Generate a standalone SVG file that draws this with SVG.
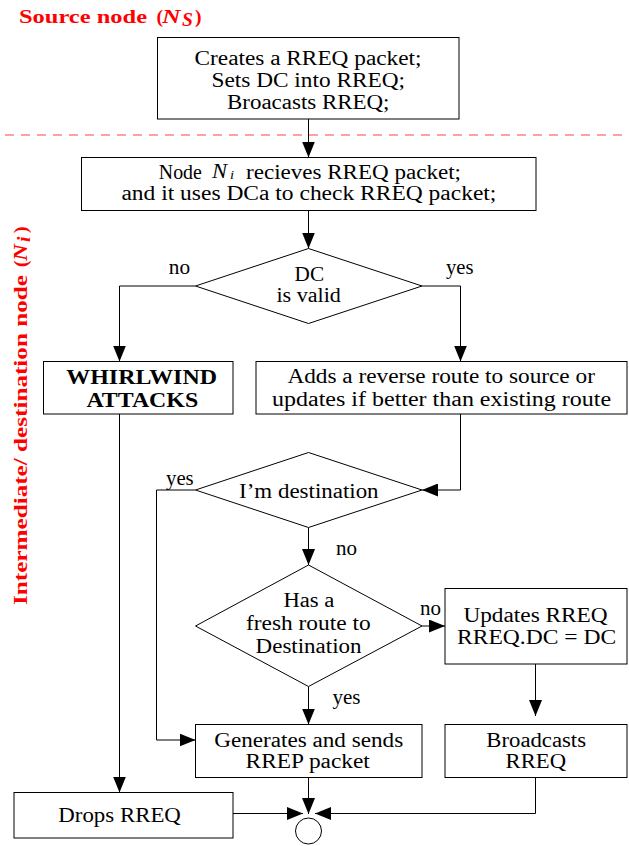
<svg xmlns="http://www.w3.org/2000/svg" width="629" height="846" viewBox="0 0 629 846">
<style>
.box{fill:#fff;stroke:#000;stroke-width:1}
.t{font-family:"Liberation Serif","Times New Roman",serif;font-size:20px;fill:#000}
.b{font-weight:bold}
.it{font-style:italic}
.sub{font-size:13px}
.lbl{font-family:"Liberation Serif","Times New Roman",serif;font-size:19.5px;font-weight:bold;fill:#ff0000}
.c{fill:none;stroke:#000;stroke-width:1}
</style>
<defs>
<marker id="ah" markerUnits="userSpaceOnUse" markerWidth="16" markerHeight="13" refX="16" refY="6.5" orient="auto">
<path d="M0,0 L16,6.5 L0,13 z" fill="#000"/>
</marker>
</defs>

<g id="source-label">
<text class="lbl" x="19" y="22.5" textLength="128" lengthAdjust="spacingAndGlyphs">Source node</text>
<text class="lbl" x="156.5" y="22.5">(</text>
<text class="lbl it" x="162" y="22.5" textLength="18.5" lengthAdjust="spacingAndGlyphs">N</text>
<text class="lbl it" x="182" y="26" font-size="13.5px">S</text>
<text class="lbl" x="195" y="22.5">)</text>
</g>

<g id="separator">
<line x1="5" y1="135" x2="625" y2="135" stroke="#ff8080" stroke-width="1.4" stroke-dasharray="9 7"/>
</g>

<g id="intermediate-label" transform="translate(26.5,605) rotate(-90)">
<text class="lbl" x="0" y="0" textLength="330" lengthAdjust="spacingAndGlyphs">Intermediate/ destination node</text>
<text class="lbl" x="338" y="0">(</text>
<text class="lbl it" x="344" y="0" textLength="17" lengthAdjust="spacingAndGlyphs">N</text>
<text class="lbl it" x="363" y="3.5" font-size="13.5px">i</text>
<text class="lbl" x="372" y="0">)</text>
</g>

<g id="connectors">
<line class="c" x1="308.5" y1="119" x2="308.5" y2="157.5" marker-end="url(#ah)"/>
<line class="c" x1="308.5" y1="210.5" x2="308.5" y2="248.5" marker-end="url(#ah)"/>
<polyline class="c" points="195.5,286 119.5,286 119.5,361.5" marker-end="url(#ah)"/>
<polyline class="c" points="422,286 460.5,286 460.5,361.5" marker-end="url(#ah)"/>
<polyline class="c" points="460.5,414 460.5,490 422,490" marker-end="url(#ah)"/>
<polyline class="c" points="195.5,490 156.5,490 156.5,740 195.5,740" marker-end="url(#ah)"/>
<line class="c" x1="308.5" y1="527.5" x2="308.5" y2="565" marker-end="url(#ah)"/>
<line class="c" x1="422" y1="626" x2="445" y2="626" marker-end="url(#ah)"/>
<line class="c" x1="308.5" y1="686.5" x2="308.5" y2="724.5" marker-end="url(#ah)"/>
<line class="c" x1="119.5" y1="414" x2="119.5" y2="792.5" marker-end="url(#ah)"/>
<line class="c" x1="535.5" y1="664" x2="535.5" y2="716" marker-end="url(#ah)"/>
<line class="c" x1="308.5" y1="777.5" x2="308.5" y2="814" marker-end="url(#ah)"/>
<line class="c" x1="233" y1="813.5" x2="303" y2="813.5" marker-end="url(#ah)"/>
<polyline class="c" points="535.5,777.5 535.5,813.5 315,813.5" marker-end="url(#ah)"/>
<text class="t" x="168.8" y="273.5" textLength="21.3" lengthAdjust="spacingAndGlyphs">no</text>
<text class="t" x="446" y="273.5" textLength="27.5" lengthAdjust="spacingAndGlyphs">yes</text>
<text class="t" x="166" y="484.5" textLength="27.7" lengthAdjust="spacingAndGlyphs">yes</text>
<text class="t" x="336" y="554.5" textLength="21" lengthAdjust="spacingAndGlyphs">no</text>
<text class="t" x="420" y="615" textLength="21" lengthAdjust="spacingAndGlyphs">no</text>
<text class="t" x="332.4" y="703.5" textLength="28" lengthAdjust="spacingAndGlyphs">yes</text>
</g>

<g id="create-rreq">
<rect class="box" x="157.5" y="37.5" width="301.5" height="81.5"/>
<text class="t" x="194.5" y="65" textLength="227" lengthAdjust="spacingAndGlyphs">Creates a RREQ packet;</text>
<text class="t" x="211.5" y="87" textLength="193.5" lengthAdjust="spacingAndGlyphs">Sets DC into RREQ;</text>
<text class="t" x="227" y="109" textLength="162.5" lengthAdjust="spacingAndGlyphs">Broacasts RREQ;</text>
</g>

<g id="receive-rreq">
<rect class="box" x="81.5" y="157.5" width="454.5" height="53"/>
<text class="t" x="158.8" y="178.5" textLength="43" lengthAdjust="spacingAndGlyphs">Node</text>
<text class="t it" x="212" y="178" textLength="22" lengthAdjust="spacingAndGlyphs">N<tspan class="sub" dx="2.5" dy="1">i</tspan></text>
<text class="t" x="246" y="178.5" textLength="215" lengthAdjust="spacingAndGlyphs">recieves RREQ packet;</text>
<text class="t" x="121.4" y="200.3" textLength="375" lengthAdjust="spacingAndGlyphs">and it uses DCa to check RREQ packet;</text>
</g>

<g id="dc-valid">
<polygon class="box" points="308.5,248.5 422,286 308.5,323.5 195.5,286"/>
<text class="t" x="294.6" y="280.5" textLength="29.5" lengthAdjust="spacingAndGlyphs">DC</text>
<text class="t" x="276.5" y="301.5" textLength="64.3" lengthAdjust="spacingAndGlyphs">is valid</text>
</g>

<g id="whirlwind">
<rect class="box" x="43.5" y="361.5" width="189.5" height="52.5"/>
<text class="t b" x="66.3" y="383.5" textLength="150.7" lengthAdjust="spacingAndGlyphs">WHIRLWIND</text>
<text class="t b" x="86.4" y="406.5" textLength="111.8" lengthAdjust="spacingAndGlyphs">ATTACKS</text>
</g>

<g id="reverse-route">
<rect class="box" x="256" y="361.5" width="371" height="52.5"/>
<text class="t" x="287.4" y="383" textLength="307.5" lengthAdjust="spacingAndGlyphs">Adds a reverse route to source or</text>
<text class="t" x="272.1" y="405.5" textLength="339" lengthAdjust="spacingAndGlyphs">updates if better than existing route</text>
</g>

<g id="im-destination">
<polygon class="box" points="308.5,452.5 422,490 308.5,527.5 195.5,490"/>
<text class="t" x="239.1" y="497.5" textLength="139.5" lengthAdjust="spacingAndGlyphs">I’m destination</text>
</g>

<g id="fresh-route">
<polygon class="box" points="308.5,565 422,626 308.5,686.5 195.5,626"/>
<text class="t" x="283.4" y="607" textLength="51" lengthAdjust="spacingAndGlyphs">Has a</text>
<text class="t" x="246" y="629.5" textLength="124.6" lengthAdjust="spacingAndGlyphs">fresh route to</text>
<text class="t" x="255.6" y="652.5" textLength="106" lengthAdjust="spacingAndGlyphs">Destination</text>
</g>

<g id="update-rreq">
<rect class="box" x="445" y="588.5" width="182" height="75.5"/>
<text class="t" x="463.4" y="621.5" textLength="144.3" lengthAdjust="spacingAndGlyphs">Updates RREQ</text>
<text class="t" x="457" y="643.5" textLength="159.2" lengthAdjust="spacingAndGlyphs">RREQ.DC = DC</text>
</g>

<g id="send-rrep">
<rect class="box" x="195.5" y="724.5" width="226.5" height="53"/>
<text class="t" x="214.2" y="746.5" textLength="189" lengthAdjust="spacingAndGlyphs">Generates and sends</text>
<text class="t" x="245.6" y="768" textLength="124.2" lengthAdjust="spacingAndGlyphs">RREP packet</text>
</g>

<g id="broadcast-rreq">
<rect class="box" x="445" y="724.5" width="182" height="53"/>
<text class="t" x="486.3" y="746.5" textLength="99.7" lengthAdjust="spacingAndGlyphs">Broadcasts</text>
<text class="t" x="505.6" y="768" textLength="60.4" lengthAdjust="spacingAndGlyphs">RREQ</text>
</g>

<g id="drop-rreq">
<rect class="box" x="14" y="792.5" width="219" height="45.5"/>
<text class="t" x="58.3" y="821.5" textLength="122.6" lengthAdjust="spacingAndGlyphs">Drops RREQ</text>
</g>

<g id="end">
<circle class="box" cx="308.5" cy="831" r="13"/>
</g>
</svg>
